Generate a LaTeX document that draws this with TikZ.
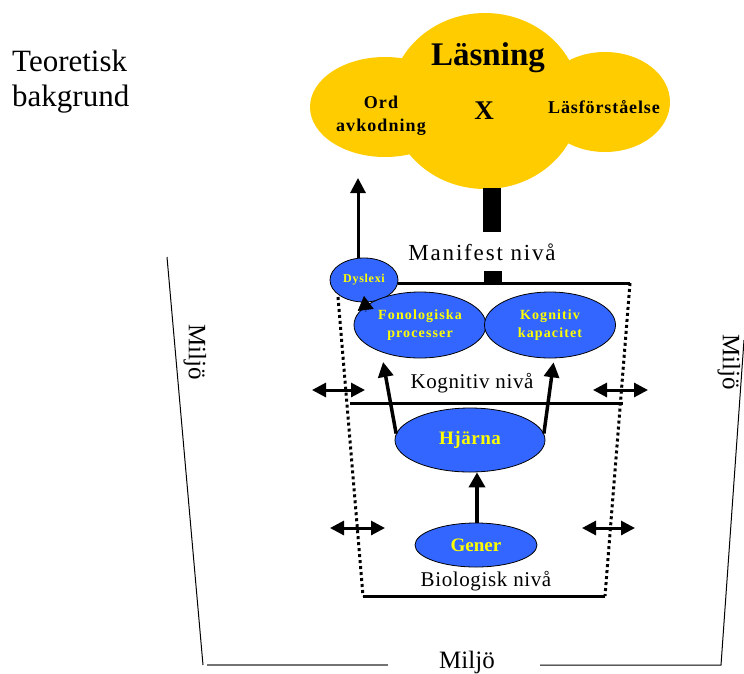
\documentclass[tikz,border=0pt]{standalone}
\usepackage{fontspec}
\setmainfont{Liberation Serif}
\usetikzlibrary{shapes.geometric,arrows.meta}
\definecolor{cloudy}{HTML}{FFCC00}
\definecolor{bblue}{HTML}{3366FF}
\definecolor{tyel}{HTML}{FFFF00}
\newcommand\fsz[2]{\fontsize{#1}{#2}\selectfont}
\newcommand\lsp[1]{\addfontfeature{LetterSpace=#1}}
\begin{document}
\begin{tikzpicture}[x=1pt,y=-1pt,
 blob/.style={ellipse, draw=black, line width=0.8pt, fill=bblue, text=tyel, inner sep=0pt, align=center},
 lvl/.style={font=\fsz{21}{24}\lsp{3}, inner sep=0pt},
 cloudtxt/.style={font=\bfseries, inner sep=0pt, align=center},
 thickline/.style={line width=3pt},
 dots/.style={line width=3pt, dash pattern=on 3pt off 3pt},
 arr/.style={line width=3.5pt, -{Triangle[width=15pt,length=15pt]}},
 darr/.style={line width=3pt, {Triangle[width=14pt,length=14pt]}-{Triangle[width=14pt,length=14pt]}},
 env/.style={line width=1pt},
 envtxt/.style={font=\fsz{25}{28}, inner sep=0pt},
]
\useasboundingbox (0,0) rectangle (744,673);

% title
\node[font=\fsz{31}{35}, align=left, anchor=north west, inner sep=0pt] (title) at (12,50) {Teoretisk\\bakgrund};

% cloud
\fill[cloudy] (485,101) ellipse [x radius=95, y radius=88];
\fill[cloudy] (385,107) ellipse [x radius=75, y radius=50];
\fill[cloudy] (605,102) ellipse [x radius=65, y radius=50];
\node[cloudtxt, font=\bfseries\fsz{33}{36}] (lasning) at (488,58) {Läsning};
\node[cloudtxt, font=\bfseries\fsz{18}{23}\lsp{6}] (ord) at (381,116) {Ord\\avkodning};
\node[cloudtxt, font=\bfseries\fsz{27}{30}] (x) at (484,111) {X};
\node[cloudtxt, font=\bfseries\fsz{18}{23}\lsp{5}] (lf) at (604,107) {Läsförståelse};

% thick bar from cloud
\fill[black] (483,188) rectangle (501,232);
\fill[black] (484,271) rectangle (502,284);
\node[font=\fsz{23}{26}\lsp{8}, inner sep=0pt] (manifest) at (482,252) {Manifest nivå};

% ellipses
\node[blob, minimum width=68pt, minimum height=44pt, font=\bfseries\fsz{12}{14}\lsp{6}] (dys) at (364,280) {Dyslexi};
\node[blob, minimum width=132pt, minimum height=66pt, font=\bfseries\fsz{14}{18}\lsp{8}] (fon) at (420,325) {Fonologiska\\processer};
\node[blob, minimum width=131pt, minimum height=66pt, font=\bfseries\fsz{14}{18}\lsp{8}] (kog) at (550,325) {Kognitiv\\kapacitet};
\node[blob, minimum width=150pt, minimum height=64pt, font=\bfseries\fsz{19}{22}\lsp{3}] (hj) at (470,440) {Hjärna};
\node[blob, minimum width=122pt, minimum height=44pt, font=\bfseries\fsz{19}{22}] (gen) at (476,545) {Gener};

% levels
\coordinate (mr) at (630,283);
\coordinate (ml) at (338,297);
\coordinate (bl) at (363,596);
\coordinate (br) at (605,596);
\draw[thickline] (dys.-8 |- mr) -- (mr);
\draw[dots] (ml) -- (bl);
\draw[dots] (mr) -- (br);
\draw[thickline] (bl) -- (br);
\coordinate (kl) at (350,403);
\coordinate (kr) at (623,403);
\draw[thickline] (kl) -- (kr);
\node[lvl] (kniva) at (472,383) {Kognitiv nivå};
\node[lvl] (bniva) at (486,581) {Biologisk nivå};

% arrows
\coordinate (ordtip) at (358,178);
\draw[line width=3pt, -{Triangle[width=15pt,length=15pt]}] (ordtip |- dys.north) -- (ordtip);
\coordinate (fdtop) at (366,312);
\coordinate (fdtip) at (364,296);
\draw[line width=0.5pt, -{Triangle[width=16pt,length=14pt]}] (fdtop) -- (fdtip);
\draw[arr, shorten >=10pt] (hj.175) -- (fon.215);
\draw[arr, shorten >=4pt] (hj.5) -- (kog.277);
\coordinate (gx) at (477,0);
\draw[line width=4pt, -{Triangle[width=16pt,length=15pt]}] (gx |- gen.north) -- (gx |- hj.south);

% double arrows
\coordinate (d1a) at (312,390); \coordinate (d1b) at (365,390);
\coordinate (d2a) at (593,390); \coordinate (d2b) at (648,390);
\coordinate (d3a) at (330,528); \coordinate (d3b) at (385,528);
\coordinate (d4a) at (582,528); \coordinate (d4b) at (635,528);
\draw[darr] (d1a) -- (d1b);
\draw[darr] (d2a) -- (d2b);
\draw[darr] (d3a) -- (d3b);
\draw[darr] (d4a) -- (d4b);

% environment
\coordinate (e1) at (167,257);
\coordinate (e2) at (203,665);
\coordinate (e3) at (207,665);
\coordinate (e4) at (388,665);
\coordinate (e5) at (540,665);
\coordinate (e6) at (721,665);
\coordinate (e7) at (744,340);
\draw[env] (e1) -- (e2);
\draw[env, line width=1.6pt, black!55] (e3) -- (e4);
\draw[env] (e5) -- (e6) -- (e7);
\node[envtxt, rotate=-90] (mv) at (195,352) {Miljö};
\node[envtxt, rotate=-90] (mh) at (729,362) {Miljö};
\node[envtxt] (mb) at (467,662) {Miljö};
\end{tikzpicture}
\end{document}
